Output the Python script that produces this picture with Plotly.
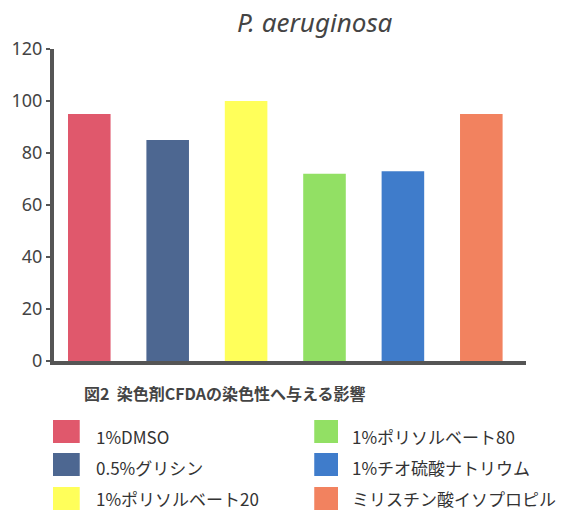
import plotly.graph_objects as go

# Staining result per additive (P. aeruginosa)
labels = ["1%DMSO", "0.5%グリシン", "1%ポリソルベート20",
          "1%ポリソルベート80", "1%チオ硫酸ナトリウム", "ミリスチン酸イソプロピル"]
values = [95, 85, 100, 72, 73, 95]
colors = ["#e0586c", "#4d6791", "#ffff5a", "#92e064", "#3f7ccb", "#f2825f"]
y_ticks = [0, 20, 40, 60, 80, 100, 120]

W, H = 573, 513
L, R, T, B = 49, 47, 49, 152
PW, PH = W - L - R, H - T - B


def px(x):
    return (x - L) / PW


def py(y):
    return (H - B - y) / PH


fig = go.Figure()
fig.add_trace(go.Bar(
    x=labels, y=values,
    marker=dict(color=colors, line=dict(width=0)),
    showlegend=False, hoverinfo="x+y",
))

font_lat = "Noto Sans, Noto Sans CJK JP, sans-serif"
font_jp = "Noto Sans CJK JP, Noto Sans, sans-serif"

annotations = [
    dict(text="<i>P. aeruginosa</i>", x=px(313), y=py(22), xref="paper", yref="paper",
         showarrow=False, xanchor="center", yanchor="middle",
         font=dict(family=font_lat, size=26, color="#444444")),
    dict(text="<b>図2  染色剤CFDAの染色性へ与える影響</b>", x=px(77), y=py(393),
         xref="paper", yref="paper", showarrow=False, xanchor="left", yanchor="middle",
         font=dict(family=font_jp, size=16, color="#444444")),
]

shapes = []
# Two-column key below the chart, filled column by column
sw_x = [(48, 75), (312, 336)]
txt_x = [89, 348]
row_top = [420, 453, 487]
txt_y = [436, 467, 498]
for i, (name, col) in enumerate(zip(labels, colors)):
    c, r = divmod(i, 3)
    x0, x1 = sw_x[c]
    y0 = row_top[r]
    shapes.append(dict(type="rect", xref="paper", yref="paper",
                       x0=px(x0), x1=px(x1), y0=py(y0 + 23), y1=py(y0),
                       fillcolor=col, line=dict(width=0)))
    annotations.append(dict(text=name, x=px(txt_x[c]), y=py(txt_y[r]),
                            xref="paper", yref="paper", showarrow=False,
                            xanchor="left", yanchor="middle",
                            font=dict(family=font_jp, size=17, color="#333333")))

fig.update_layout(
    width=W, height=H,
    margin=dict(l=L, r=R, t=T, b=B, pad=0),
    paper_bgcolor="white", plot_bgcolor="white",
    bargap=0.457,
    showlegend=False,
    shapes=shapes,
    annotations=annotations,
    xaxis=dict(range=[-0.45, 5.57], showticklabels=False, ticks="",
               showgrid=False, zeroline=False,
               showline=True, linecolor="#555555", linewidth=4),
    yaxis=dict(range=[0, 120], tickvals=y_ticks, ticks="outside", ticklen=4,
               tickwidth=2, tickcolor="#555555", showgrid=False, zeroline=False,
               showline=True, linecolor="#555555", linewidth=4,
               tickfont=dict(family=font_lat, size=18, color="#444444")),
)

fig.write_html("out.html")
